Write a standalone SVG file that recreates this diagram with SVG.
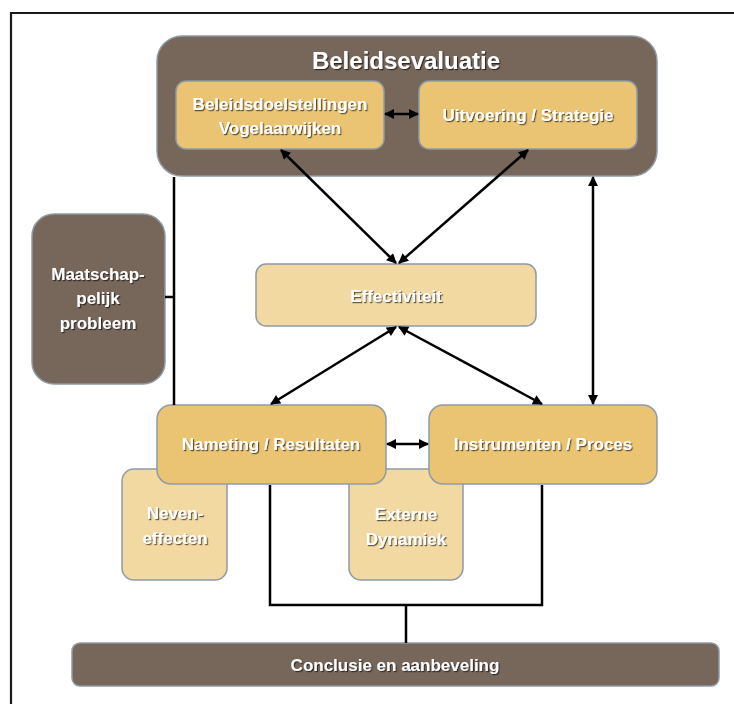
<svg xmlns="http://www.w3.org/2000/svg" width="734" height="704" viewBox="0 0 734 704">
<defs>
<style>
.brown{fill:#77675b;stroke:#8f9ba6;stroke-width:1.5}
.gold{fill:#ebc473;stroke:#8f9ba6;stroke-width:1.5}
.light{fill:#f2d8a1;stroke:#8f9ba6;stroke-width:1.5}
.t{font-family:"Liberation Sans",Arial,sans-serif;font-weight:bold;fill:#ffffff;text-anchor:middle;font-size:17px;filter:url(#sh)}
.title{font-size:24px}
.ln{fill:none;stroke:#000;stroke-width:2.5}
.ar{fill:none;stroke:#000;stroke-width:2.5;marker-start:url(#ah);marker-end:url(#ah)}
</style>
<filter id="sh" x="-10%" y="-30%" width="120%" height="160%">
<feDropShadow dx="1.2" dy="1.2" stdDeviation="0.7" flood-color="#000" flood-opacity="0.6"/>
</filter>
<marker id="ah" viewBox="0 0 10 10" refX="9" refY="5" markerWidth="11" markerHeight="10" markerUnits="userSpaceOnUse" orient="auto-start-reverse">
<path d="M0,0 L10,5 L0,10 z" fill="#000"/>
</marker>
</defs>
<rect width="734" height="704" fill="#ffffff"/>
<path d="M11,704 L11,13 L734,13" fill="none" stroke="#1a1a1a" stroke-width="2.2"/>

<g id="beleidsevaluatie">
<rect class="brown" x="157" y="36" width="500" height="140" rx="25"/>
<text class="t title" x="406" y="69">Beleidsevaluatie</text>
</g>
<g id="beleidsdoelstellingen">
<rect class="gold" x="176" y="81" width="208" height="68" rx="10"/>
<text class="t" x="280" y="110">Beleidsdoelstellingen</text>
<text class="t" x="280" y="134">Vogelaarwijken</text>
</g>
<g id="uitvoering">
<rect class="gold" x="419" y="81" width="218" height="68" rx="10"/>
<text class="t" x="528" y="121">Uitvoering / Strategie</text>
</g>
<g id="maatschappelijk">
<rect class="brown" x="32" y="214" width="133" height="170" rx="22"/>
<text class="t" x="98" y="280">Maatschap-</text>
<text class="t" x="98" y="304">pelijk</text>
<text class="t" x="98" y="329">probleem</text>
</g>
<g id="effectiviteit">
<rect class="light" x="256" y="264" width="280" height="62" rx="10"/>
<text class="t" x="396" y="302">Effectiviteit</text>
</g>
<g id="neveneffecten">
<rect class="light" x="122" y="469" width="105" height="111" rx="12"/>
<text class="t" x="175" y="519">Neven-</text>
<text class="t" x="175" y="544">effecten</text>
</g>
<g id="externe">
<rect class="light" x="349" y="469" width="114" height="111" rx="12"/>
<text class="t" x="406" y="520">Externe</text>
<text class="t" x="406" y="545">Dynamiek</text>
</g>
<g id="nameting">
<rect class="gold" x="157" y="405" width="229" height="79" rx="14"/>
<text class="t" x="271" y="450">Nameting / Resultaten</text>
</g>
<g id="instrumenten">
<rect class="gold" x="429" y="405" width="228" height="79" rx="14"/>
<text class="t" x="543" y="450">Instrumenten / Proces</text>
</g>
<g id="conclusie">
<rect class="brown" x="72" y="643" width="647" height="43" rx="8"/>
<text class="t" x="395" y="671">Conclusie en aanbeveling</text>
</g>

<g id="connectors">
<path class="ln" d="M174,177 L174,405 M165,297 L174,297"/>
<line class="ar" x1="593" y1="177" x2="593" y2="404"/>
<line class="ar" x1="385" y1="114" x2="418" y2="114"/>
<line class="ar" x1="281" y1="150" x2="396" y2="263"/>
<line class="ar" x1="528" y1="150" x2="399" y2="263"/>
<line class="ar" x1="396" y1="327" x2="271" y2="404"/>
<line class="ar" x1="399" y1="327" x2="542" y2="404"/>
<line class="ar" x1="387" y1="444" x2="428" y2="444"/>
<path class="ln" d="M270,485 L270,605 L542,605 L542,485 M406,605 L406,643"/>
</g>
</svg>
